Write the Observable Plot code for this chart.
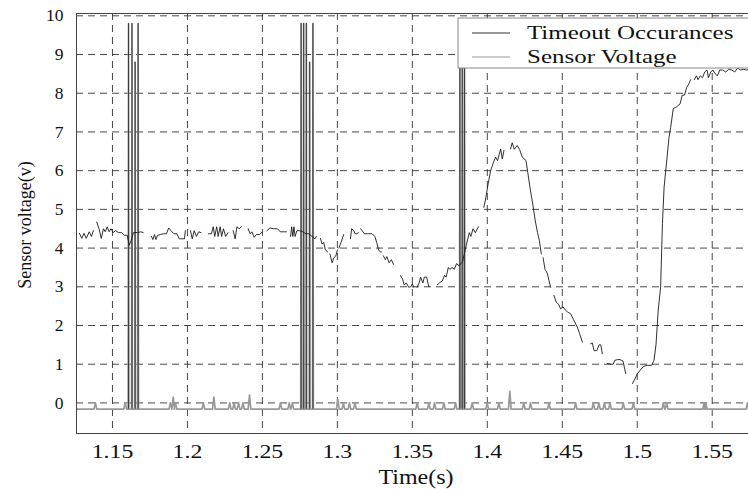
<!DOCTYPE html>
<html><head><meta charset="utf-8">
<script src="https://cdn.jsdelivr.net/npm/d3@7"></script>
<script src="https://cdn.jsdelivr.net/npm/@observablehq/plot@0.6"></script>
<style>
body{margin:0;background:#fff}
svg{display:block}
svg, svg text { font-family: "Liberation Serif", "Times New Roman", serif !important; }
</style>
</head><body><div id="chart"></div>
<script>
const seriesNames = ["Timeout Occurances", "Sensor Voltage"];
const xLabel = "Time(s)";
const yLabel = "Sensor voltage(v)";
const xDomain = [1.126, 1.5742];
const yDomain = [-0.79, 10.06];
const xTicks = [1.15, 1.2, 1.25, 1.3, 1.35, 1.4, 1.45, 1.5, 1.55];
const yTicks = [0, 1, 2, 3, 4, 5, 6, 7, 8, 9, 10];

// Timeout occurrences: baseline level, small blips, and tall spikes
const timeoutBase = -0.16;
const bumpTimes = [1.1386, 1.1585, 1.1886, 1.1905, 1.1920, 1.2106, 1.2176, 1.2282, 1.2311, 1.2341, 1.2370, 1.2414, 1.2620, 1.2679, 1.2700,
  1.3003, 1.3040, 1.3080, 1.3117, 1.3532, 1.3610, 1.3648, 1.3710, 1.3788, 1.3899, 1.3999, 1.4077, 1.4150, 1.4243, 1.4288, 1.4411,
  1.4589, 1.4707, 1.4744, 1.4781, 1.4818, 1.4907, 1.4974, 1.5174, 1.5196, 1.5446, 1.5457, 1.5735];
const bumpPeaks = [0, 0, 0, 0.15, 0, 0, 0.15, 0, 0, 0, 0, 0.2, 0, 0, 0,
  0.1, 0, 0, 0, 0, 0, 0, 0, 0, 0, 0, 0, 0.3, 0, 0, 0,
  0, 0, 0, 0, 0, 0, 0, 0, 0, 0, 0, 0];
const spikeTimes = [1.1607, 1.1630, 1.1651, 1.1671, 1.2758, 1.2775, 1.2793, 1.2815, 1.2837, 1.3817, 1.3833, 1.3848];
const spikePeaks = [9.8, 9.8, 8.8, 9.8, 9.8, 9.8, 9.8, 8.8, 9.8, 9.8, 9.8, 9.8];

// Sensor voltage (null = gap in the trace)
const voltTime = [
 1.1280,1.1295,1.1310,1.1325,1.1345,1.1360,1.1372,1.1380,
 1.1395,1.1410,1.1425,1.1440,1.1452,1.1465,1.1478,1.1490,1.1505,1.1520,1.1540,1.1560,1.1580,1.1598,1.1612,1.1625,1.1640,1.1665,1.1690,1.1705,1.1730,
 1.1760,1.1770,1.1780,1.1790,1.1800,1.1820,1.1840,1.1860,1.1875,1.1890,1.1910,1.1930,1.1945,1.1980,1.1986,1.1995,
 1.2020,1.2032,1.2045,1.2060,1.2075,1.2090,1.2120,
 1.2140,1.2160,1.2172,1.2182,1.2195,1.2205,1.2218,1.2228,1.2240,1.2255,1.2270,1.2290,
 1.2305,1.2318,1.2330,1.2345,1.2360,1.2380,
 1.2405,1.2418,1.2430,1.2445,1.2460,1.2480,1.2500,1.2515,
 1.2530,1.2550,1.2575,1.2600,1.2620,1.2645,1.2660,1.2675,
 1.2688,1.2695,1.2703,1.2710,1.2718,1.2730,1.2745,1.2770,1.2790,1.2810,1.2830,1.2850,1.2860,1.2875,
 1.2887,1.2898,1.2909,1.2920,1.2936,1.2943,
 1.2950,1.2965,1.2976,1.2990,1.3000,1.3005,
 1.3010,1.3025,1.3042,1.3065,
 1.3087,1.3095,1.3110,1.3118,1.3130,1.3140,1.3148,
 1.3155,1.3165,1.3180,1.3200,1.3232,1.3250,1.3262,1.3275,1.3287,1.3295,1.3300,
 1.3307,1.3320,1.3330,1.3345,1.3360,1.3374,1.3395,
 1.3421,1.3435,1.3445,1.3460,1.3475,1.3490,1.3500,1.3508,1.3520,
 1.3532,1.3545,1.3555,1.3570,1.3580,1.3595,1.3610,1.3640,
 1.3666,1.3680,1.3700,1.3715,1.3725,1.3740,1.3750,1.3765,1.3780,1.3795,1.3810,1.3825,1.3835,1.3844,1.3855,1.3870,1.3880,1.3890,1.3905,1.3920,1.3940,1.3960,
 1.3977,1.3990,1.4005,1.4022,1.4040,1.4055,1.4068,1.4089,1.4100,1.4111,1.4135,
 1.4155,1.4166,1.4180,1.4199,1.4215,1.4233,1.4258,1.4270,1.4285,1.4303,1.4320,1.4335,1.4347,1.4360,1.4365,
 1.4372,1.4385,1.4400,1.4412,1.4422,1.4435,
 1.4444,1.4460,1.4475,1.4489,1.4505,1.4520,1.4535,1.4556,1.4575,1.4600,1.4615,1.4634,1.4660,
 1.4689,1.4700,1.4712,1.4730,1.4745,1.4757,1.4767,1.4780,
 1.4800,1.4825,1.4840,1.4850,1.4870,1.4885,1.4905,1.4923,1.4945,
 1.4968,1.4985,1.5000,1.5020,1.5045,1.5070,1.5095,1.5112,1.5125,1.5140,1.5156,1.5168,1.5179,1.5190,1.5212,1.5223,1.5240,1.5262,1.5285,1.5300,1.5315,1.5330,1.5345,1.5356,1.5365,
 1.5380,1.5395,1.5405,1.5420,1.5435,1.5450,1.5465,1.5475,1.5490,1.5505,1.5520,1.5535,1.5550,1.5570,1.5590,1.5610,1.5630,1.5650,1.5670,1.5690,1.5710,1.5730,1.5742
];
const voltValue = [
 4.38,4.25,4.38,4.25,4.42,4.30,4.45,null,
 4.67,4.50,4.25,4.50,4.42,4.55,4.42,4.50,4.40,4.45,4.40,4.40,4.33,4.33,4.07,4.20,4.40,4.40,4.42,4.40,null,
 4.30,4.22,4.35,4.22,4.33,4.35,4.37,4.37,4.52,4.45,4.37,4.37,4.24,4.24,4.45,null,
 4.45,4.24,4.45,4.30,4.42,4.40,null,
 4.37,4.37,4.55,4.30,4.55,4.30,4.55,4.30,4.50,4.30,4.40,null,
 4.45,4.24,4.55,4.50,4.55,null,
 4.50,4.37,4.42,4.28,4.35,4.35,4.42,null,
 4.45,4.52,4.50,4.50,4.42,4.42,4.42,null,
 4.30,4.55,4.30,4.55,4.30,4.45,4.45,4.42,4.37,4.37,4.30,4.24,4.30,null,
 4.25,4.10,4.15,3.95,3.90,null,
 3.85,3.62,3.75,3.80,3.95,null,
 4.00,4.15,4.35,null,
 4.24,4.50,4.45,4.37,4.37,4.40,null,
 4.50,4.45,4.37,4.37,4.37,4.30,4.15,3.95,3.90,3.90,null,
 3.80,3.70,3.78,3.62,3.70,3.58,null,
 3.29,3.20,3.05,3.10,2.99,3.00,3.08,2.99,null,
 2.99,3.10,3.25,3.10,3.25,3.25,3.00,null,
 3.05,3.10,3.15,3.30,3.25,3.50,3.45,3.50,3.45,3.60,3.55,3.60,3.65,3.80,4.00,4.24,4.40,4.30,4.50,4.40,4.55,null,
 5.05,5.30,5.65,6.00,6.20,6.35,6.26,6.56,6.30,6.52,null,
 6.56,6.72,6.55,6.65,6.55,6.35,6.26,5.95,5.55,5.14,4.70,4.40,4.20,3.85,null,
 3.75,3.45,3.35,3.15,2.99,null,
 2.78,2.60,2.55,2.43,2.48,2.40,2.35,2.30,2.15,1.96,1.80,1.57,null,
 1.53,1.55,1.35,1.35,1.50,1.50,1.27,null,
 1.02,1.00,1.00,1.10,1.12,1.12,1.08,0.76,null,
 0.50,0.62,0.75,0.85,0.95,0.97,0.97,1.10,1.50,2.40,3.00,4.63,5.57,6.00,6.86,7.12,7.60,7.65,7.72,7.95,7.95,8.15,8.25,8.35,null,
 8.35,8.45,8.35,8.45,8.40,8.55,8.60,8.40,8.55,8.60,8.50,8.45,8.60,8.60,8.55,8.62,8.60,8.55,8.65,8.60,8.62,8.60,8.62
];

const volt = voltTime.map((t, i) => ({t, v: voltValue[i]}));

const events = [
  ...bumpTimes.map((t, i) => ({t, p: bumpPeaks[i], w: 0.0009})),
  ...spikeTimes.map((t, i) => ({t, p: spikePeaks[i], w: 0.00025}))
].sort((a, b) => a.t - b.t);
const timeout = [{t: xDomain[0], v: timeoutBase}];
for (const e of events) {
  timeout.push({t: e.t - e.w, v: timeoutBase}, {t: e.t, v: e.p}, {t: e.t + e.w, v: timeoutBase});
}
timeout.push({t: xDomain[1], v: timeoutBase});
const spikes = spikeTimes.map((t, i) => ({t, p: spikePeaks[i]}));

const W = 748, H = 489, mL = 76, mR = 0, mT = 13, mB = 56;

const plot = Plot.plot({
  width: W, height: H,
  marginLeft: mL, marginRight: mR, marginTop: mT, marginBottom: mB,
  style: {fontSize: "17.5px", color: "#111", background: "#fff", overflow: "visible"},
  x: {domain: xDomain, ticks: xTicks, tickFormat: d => String(+d.toFixed(2)), tickSize: 0, tickPadding: 11, label: null},
  y: {domain: yDomain, ticks: yTicks, tickSize: 0, tickPadding: 13, label: null},
  marks: [
    Plot.ruleX(xTicks, {stroke: "#333", strokeWidth: 0.9, strokeDasharray: "7,5"}),
    Plot.ruleY(yTicks, {stroke: "#333", strokeWidth: 0.9, strokeDasharray: "7,5"}),
    Plot.line(timeout, {x: "t", y: "v", stroke: "#999", strokeWidth: 1.7, clip: true}),
    Plot.ruleX(spikes, {x: "t", y1: timeoutBase, y2: "p", stroke: "#222", strokeWidth: 0.8}),
    Plot.line(volt, {x: "t", y: "v", stroke: "#1a1a1a", strokeWidth: 0.9, clip: true}),
    Plot.frame({stroke: "#444"})
  ]
});
document.getElementById("chart").appendChild(plot);

const svg = d3.select(plot);
// widened x tick labels as in the reference
svg.selectAll('[aria-label^="x-axis"] text').each(function () {
  const el = d3.select(this);
  const tr = el.attr("transform") || "";
  el.style("font-size", "19px").attr("transform", (tr + " scale(1.25,1)").trim());
});

// axis titles
svg.append("text").attr("transform", `translate(${(mL + W - mR) / 2 + 4},${H - 5}) scale(1.2,1)`)
  .attr("text-anchor", "middle").style("font-size", "20px").attr("fill", "#111").text(xLabel);
svg.append("text").attr("transform", `translate(31,${(mT + H - mB) / 2 + 2}) rotate(-90)`)
  .attr("text-anchor", "middle").style("font-size", "18px").attr("fill", "#111").text(yLabel);

// legend
const lg = svg.append("g").attr("text-anchor", "start");
lg.append("rect").attr("x", 458).attr("y", 18).attr("width", 300).attr("height", 50)
  .attr("fill", "#fff").attr("stroke", "#888").attr("stroke-width", 1);
const legendColors = ["#333", "#999"];
seriesNames.forEach((name, i) => {
  const y = 33 + i * 24;
  lg.append("line").attr("x1", 472).attr("x2", 510).attr("y1", y).attr("y2", y)
    .attr("stroke", legendColors[i]).attr("stroke-width", 1);
  lg.append("text").attr("transform", `translate(527,${y + 6}) scale(1.35,1)`)
    .attr("text-anchor", "start").style("font-size", "18.5px").attr("fill", "#111").text(name);
});
</script></body></html>
